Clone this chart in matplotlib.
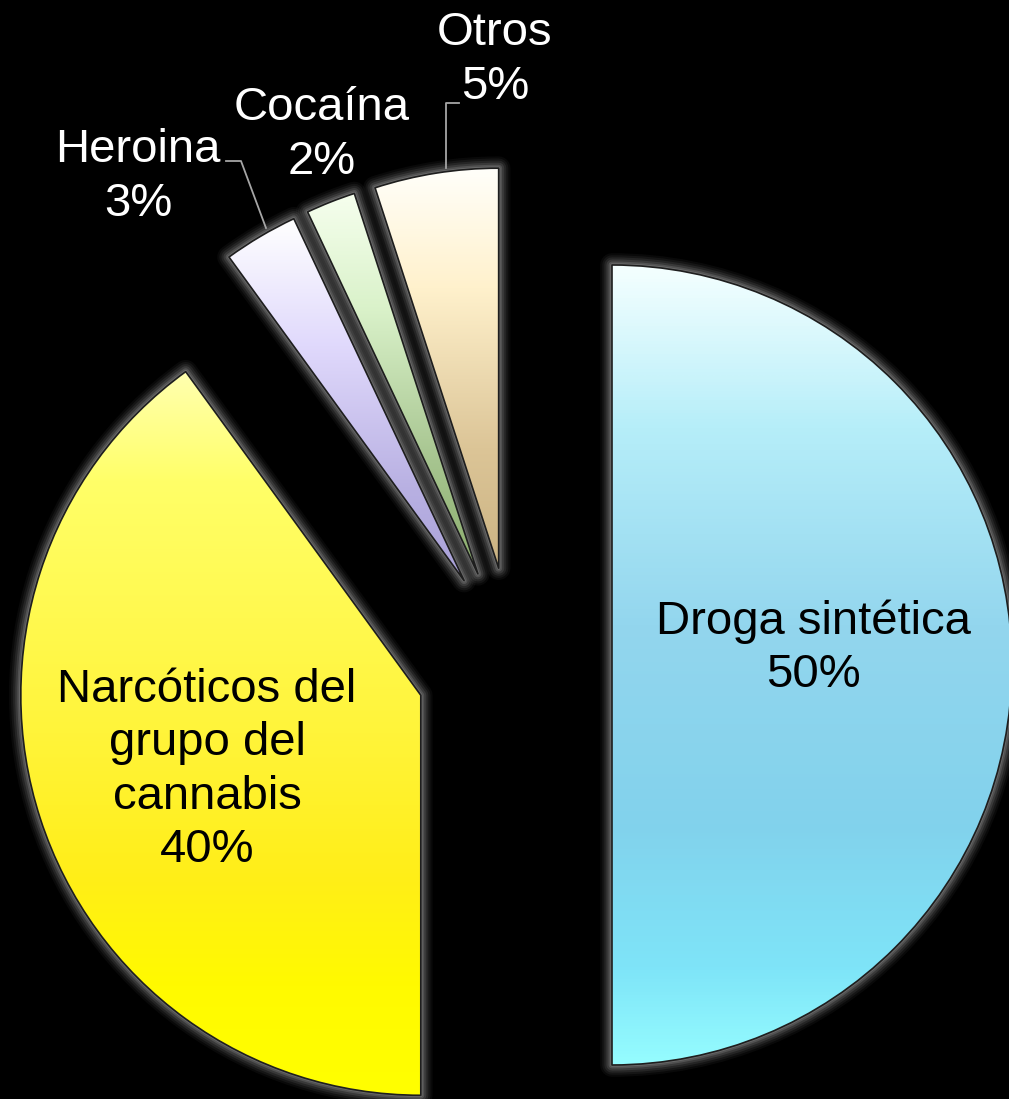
import numpy as np
import matplotlib
matplotlib.use("Agg")
import matplotlib.pyplot as plt
import matplotlib.patches as mpatches
import matplotlib.patheffects as pe
from matplotlib.colors import LinearSegmentedColormap

plt.rcParams['font.family'] = ['Liberation Sans', 'DejaVu Sans']

# data
categories = ["Droga sintética", "Narcóticos del\ngrupo del\ncannabis", "Heroina", "Cocaína", "Otros"]
values = [50, 40, 3, 2, 5]
pct_labels = ["50%", "40%", "3%", "2%", "5%"]

# gradient stops for each slice, top -> bottom
grad_stops = [
    [(0.0, '#F4FFFF'), (0.2, '#B6EEF9'), (0.45, '#93D6EE'), (0.7, '#82D2EC'), (0.88, '#7EE4F8'), (1.0, '#95FCFF')],
    [(0.0, '#FFFFB0'), (0.15, '#FFFF68'), (0.5, '#FFF43A'), (0.7, '#FFEE18'), (0.85, '#FFFA00'), (1.0, '#FFFF00')],
    [(0.0, '#FFFFFF'), (0.35, '#E0D9FC'), (0.75, '#B8B0E2'), (1.0, '#A9A1D8')],
    [(0.0, '#F6FFEE'), (0.3, '#DAF2CA'), (0.7, '#A7C590'), (1.0, '#8AAC6C')],
    [(0.0, '#FFFFFA'), (0.3, '#FFF1CC'), (0.7, '#DCC597'), (1.0, '#CBB383')],
]
text_colors = ['black', 'black', 'white', 'white', 'white']

# layout (pixel coords, y up)
W, H = 1009, 1099
center = (514, 434)
radius = 400
explode = [98] * 5
label_pos = [(813, H - 648), (207, H - 770), (138, H - 177), (322, H - 135), (495, H - 60)]

fig = plt.figure(figsize=(W / 100, H / 100), dpi=100, facecolor='black')
ax = fig.add_axes([0, 0, 1, 1])
ax.set_facecolor('black')

wedges, _ = ax.pie(values, explode=explode, radius=radius, center=center,
                   startangle=90, counterclock=False, frame=True,
                   wedgeprops=dict(facecolor='black', edgecolor='none'))

glow = [pe.Stroke(linewidth=lw, foreground='#b4b4b4', alpha=a, joinstyle='round')
        for lw, a in [(17, 0.05), (14, 0.07), (11, 0.10), (8, 0.14), (5, 0.20), (2.5, 0.25)]]
glow.append(pe.Normal())

grad = np.linspace(0, 1, 256).reshape(-1, 1)
for w, stops in zip(wedges, grad_stops):
    w.set_zorder(1)
    w.set_path_effects(glow)
    path = w.get_path()
    ext = path.get_extents()
    cmap = LinearSegmentedColormap.from_list('g', stops)
    im = ax.imshow(grad, cmap=cmap, extent=[ext.x0, ext.x1, ext.y0, ext.y1],
                   origin='upper', aspect='auto', zorder=2, interpolation='bilinear')
    im.set_clip_path(w)
    edge = mpatches.PathPatch(path, facecolor='none', edgecolor='#1e1e1e', lw=1.2,
                              joinstyle='round', zorder=3)
    ax.add_patch(edge)

for (x, y), cat, pct, col in zip(label_pos, categories, pct_labels, text_colors):
    ax.text(x, y, cat + "\n" + pct, ha='center', va='center', fontsize=34,
            color=col, linespacing=1.27, zorder=5)

# leader lines
ax.plot([226, 241, 266], [H - 161, H - 161, H - 228], color='#a6a6a6', lw=1.3, zorder=4)
ax.plot([459, 446, 446], [H - 103, H - 103, H - 168], color='#a6a6a6', lw=1.3, zorder=4)

ax.set_xlim(0, W)
ax.set_ylim(0, H)
ax.set_aspect('auto')
ax.axis('off')

fig.savefig("out.png", dpi=100, facecolor='black')
